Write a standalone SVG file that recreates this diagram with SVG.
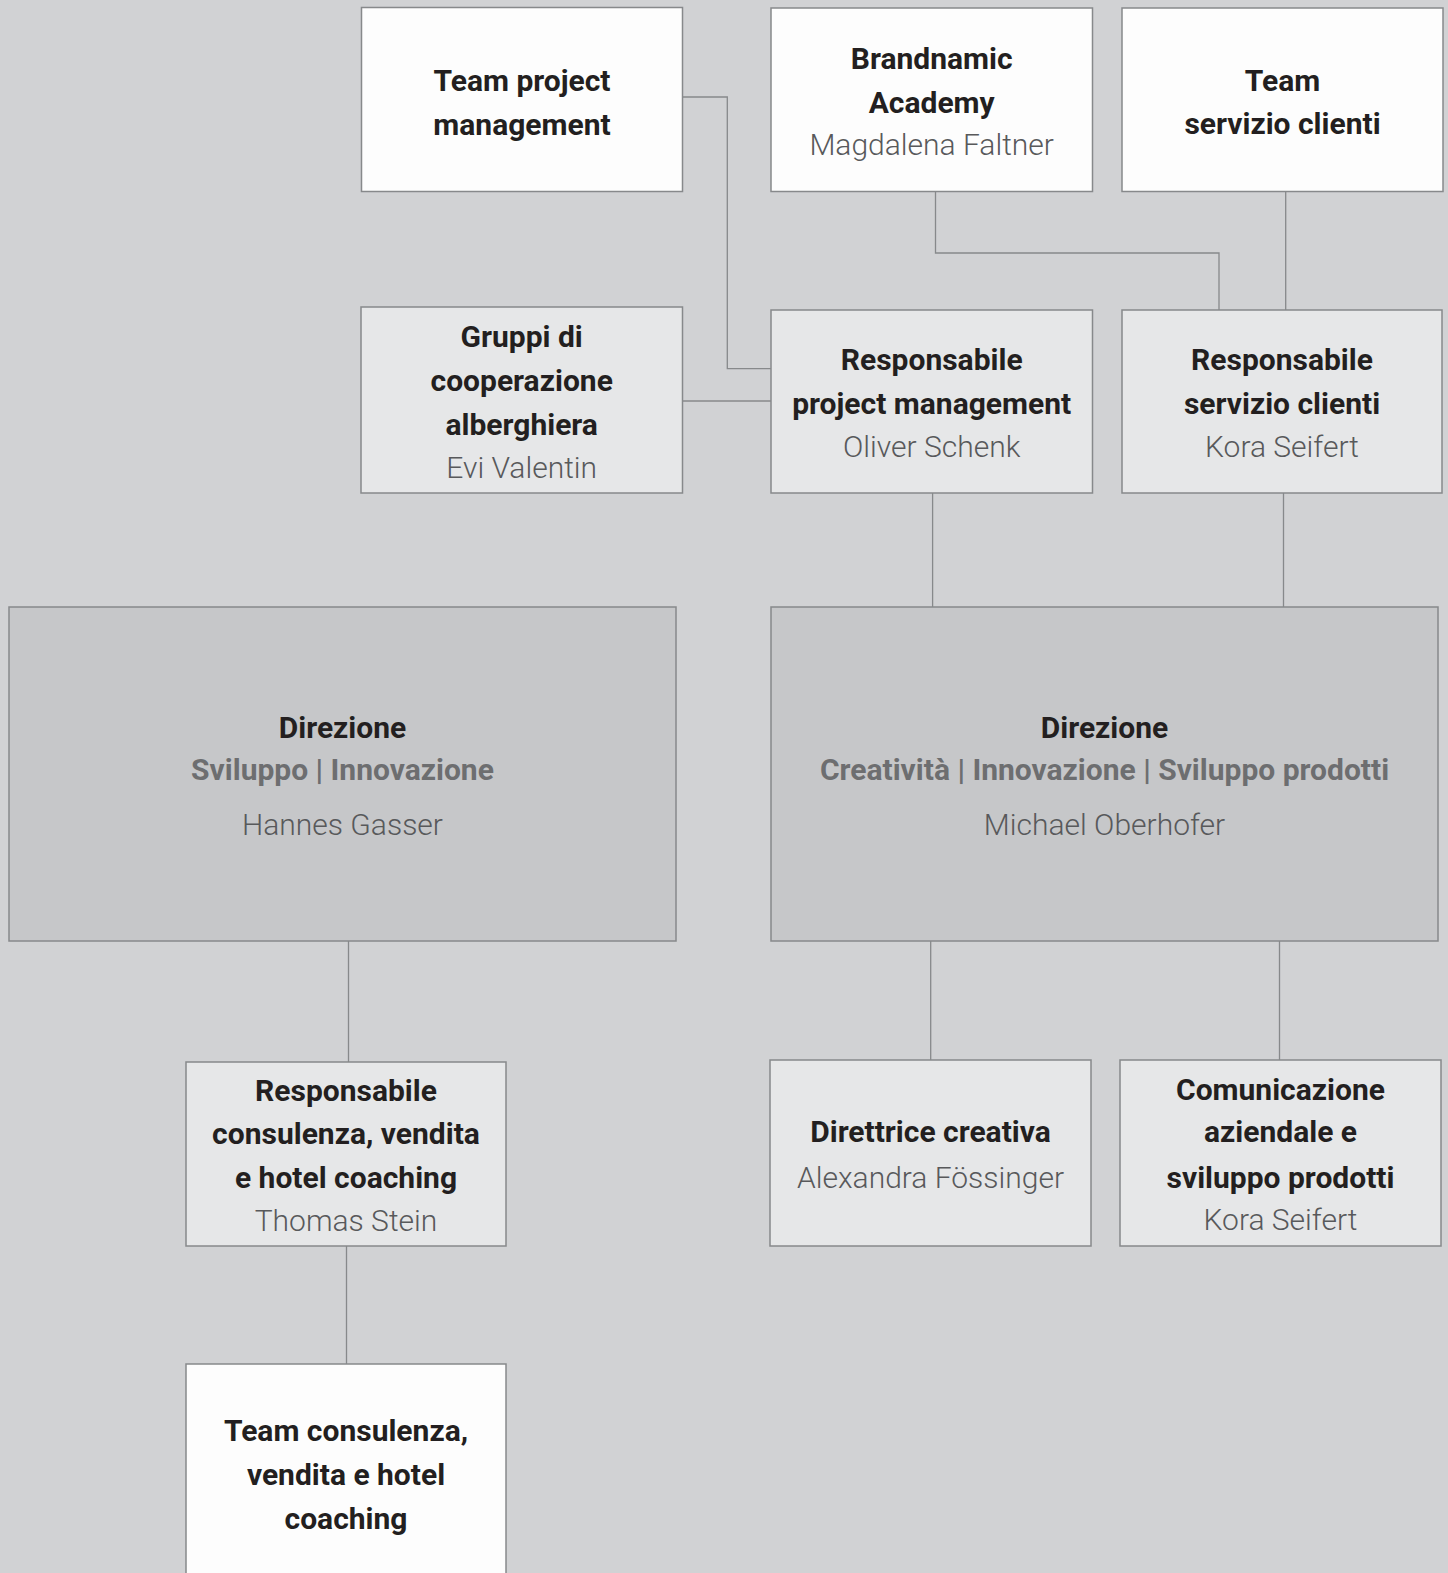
<svg xmlns="http://www.w3.org/2000/svg" width="1448" height="1573" viewBox="0 0 1448 1573">
<style>
.bg{fill:#d1d2d4}
.box{stroke:#87898b;stroke-width:1.5}
.w{fill:#fdfdfd}
.l{fill:#e6e7e8}
.d{fill:#c6c7c9}
.t{font-family:Roboto,"Liberation Sans",sans-serif;font-size:30px;text-anchor:middle}
.b{font-weight:700;fill:#231f20}
.n{font-weight:300;fill:#58595b}
.s{font-weight:700;fill:#6d6e70}
.c{fill:none;stroke:#87898b;stroke-width:1.3}
</style>
<rect class="bg" x="0" y="0" width="1448" height="1573"/>
<g id="connectors">
<path class="c" d="M682.5,97 H727.3 V368.7 H771"/>
<path class="c" d="M682.5,401 H771"/>
<path class="c" d="M935.5,191.5 V253 H1219 V310"/>
<path class="c" d="M1285.7,191.5 V310"/>
<path class="c" d="M932.6,493 V607"/>
<path class="c" d="M1283.5,493 V607"/>
<path class="c" d="M348.5,941 V1062"/>
<path class="c" d="M346.5,1246 V1364"/>
<path class="c" d="M930.7,941 V1060"/>
<path class="c" d="M1279.5,941 V1060"/>
</g>
<g id="team-project-management">
<rect class="box w" x="361.5" y="7.5" width="321" height="184"/>
<text class="t b" x="522" y="90.7">Team project</text>
<text class="t b" x="522" y="134.5">management</text>
</g>
<g id="brandnamic-academy">
<rect class="box w" x="771" y="8" width="321.5" height="183.5"/>
<text class="t b" x="931.7" y="69">Brandnamic</text>
<text class="t b" x="931.7" y="112.5">Academy</text>
<text class="t n" x="931.7" y="155">Magdalena Faltner</text>
</g>
<g id="team-servizio-clienti">
<rect class="box w" x="1122" y="8" width="321" height="183.5"/>
<text class="t b" x="1282.5" y="90.7">Team</text>
<text class="t b" x="1282.5" y="133.5">servizio clienti</text>
</g>
<g id="gruppi-cooperazione">
<rect class="box l" x="361" y="307" width="321.5" height="186"/>
<text class="t b" x="521.7" y="347.3">Gruppi di</text>
<text class="t b" x="521.7" y="391">cooperazione</text>
<text class="t b" x="521.7" y="434.5">alberghiera</text>
<text class="t n" x="521.7" y="478.3">Evi Valentin</text>
</g>
<g id="responsabile-project-management">
<rect class="box l" x="771" y="310" width="321.5" height="183"/>
<text class="t b" x="931.7" y="370.3">Responsabile</text>
<text class="t b" x="931.7" y="413.5">project management</text>
<text class="t n" x="931.7" y="457.3">Oliver Schenk</text>
</g>
<g id="responsabile-servizio-clienti">
<rect class="box l" x="1122" y="310" width="320" height="183"/>
<text class="t b" x="1282" y="370.3">Responsabile</text>
<text class="t b" x="1282" y="413.5">servizio clienti</text>
<text class="t n" x="1282" y="457.3">Kora Seifert</text>
</g>
<g id="direzione-sviluppo">
<rect class="box d" x="9" y="607" width="667" height="334"/>
<text class="t b" x="342.5" y="737.7">Direzione</text>
<text class="t s" x="342.5" y="780">Sviluppo | Innovazione</text>
<text class="t n" x="342.5" y="835">Hannes Gasser</text>
</g>
<g id="direzione-creativita">
<rect class="box d" x="771" y="607" width="667" height="334"/>
<text class="t b" x="1104.5" y="737.7">Direzione</text>
<text class="t s" x="1104.5" y="780">Creatività | Innovazione | Sviluppo prodotti</text>
<text class="t n" x="1104.5" y="835">Michael Oberhofer</text>
</g>
<g id="responsabile-consulenza">
<rect class="box l" x="186" y="1062" width="320" height="184"/>
<text class="t b" x="346" y="1100.5">Responsabile</text>
<text class="t b" x="346" y="1144">consulenza, vendita</text>
<text class="t b" x="346" y="1187.5">e hotel coaching</text>
<text class="t n" x="346" y="1231">Thomas Stein</text>
</g>
<g id="team-consulenza">
<rect class="box w" x="186" y="1364" width="320" height="230"/>
<text class="t b" x="346" y="1441.4">Team consulenza,</text>
<text class="t b" x="346" y="1485">vendita e hotel</text>
<text class="t b" x="346" y="1529">coaching</text>
</g>
<g id="direttrice-creativa">
<rect class="box l" x="770" y="1060" width="321" height="186"/>
<text class="t b" x="930.5" y="1142.3">Direttrice creativa</text>
<text class="t n" x="930.5" y="1187.7">Alexandra Fössinger</text>
</g>
<g id="comunicazione-aziendale">
<rect class="box l" x="1120" y="1060" width="321" height="186"/>
<text class="t b" x="1280.5" y="1100">Comunicazione</text>
<text class="t b" x="1280.5" y="1142.3">aziendale e</text>
<text class="t b" x="1280.5" y="1187.7">sviluppo prodotti</text>
<text class="t n" x="1280.5" y="1230">Kora Seifert</text>
</g>
</svg>
